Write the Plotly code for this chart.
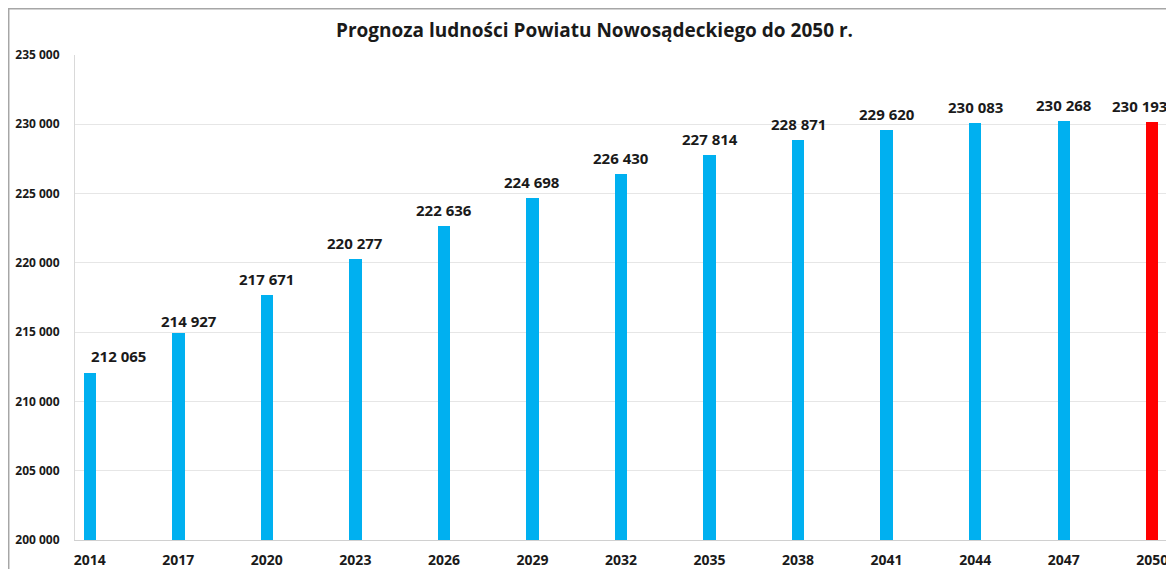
import plotly.graph_objects as go

years = [2014, 2017, 2020, 2023, 2026, 2029, 2032, 2035, 2038, 2041, 2044, 2047, 2050]
population = [212065, 214927, 217671, 220277, 222636, 224698, 226430,
              227814, 228871, 229620, 230083, 230268, 230193]
bar_colors = ['#00B0F0'] * 12 + ['#FF0000']
y_ticks = [200000, 205000, 210000, 215000, 220000, 225000, 230000, 235000]

fig = go.Figure()

fig.add_trace(
    go.Bar(
        x=years,
        y=population,
        width=0.42,
        marker=dict(color=bar_colors, line=dict(width=0)),
        hovertemplate='%{x}: %{y:,d}<extra></extra>',
        showlegend=False,
    )
)

# value labels (a few were nudged by hand in the original)
for i, (yr, val) in enumerate(zip(years, population)):
    xs, ys = 0, 4
    if i == 0:
        xs, ys = 29, 5
    elif i == 1:
        xs, ys = 11, 0
    elif i == len(years) - 1:
        xs = -13
    fig.add_annotation(
        x=yr, y=val, xref='x', yref='y',
        text=f'{val:,}'.replace(',', ' '),
        showarrow=False, xanchor='center', yanchor='bottom',
        xshift=xs, yshift=ys,
        font=dict(family='Open Sans', size=15, color='#1a1a1a', weight='bold'),
    )

fig.update_xaxes(
    range=[2013.5, 2050.5],
    tickvals=years,
    ticktext=[str(y) for y in years],
    tickfont=dict(family='Open Sans', size=14, color='#1a1a1a', weight='bold'),
    showgrid=False,
    showline=True, linecolor='#d0d0d0', linewidth=1,
    ticks='', zeroline=False,
    ticklabelstandoff=7,
    automargin=False,
)
fig.update_yaxes(
    range=[200000, 235000],
    tickvals=y_ticks,
    tickformat=',d',
    tickfont=dict(family='Open Sans', size=12, color='#1a1a1a', weight='bold'),
    showgrid=True, gridcolor='#e6e6e6', gridwidth=1,
    showline=True, linecolor='#d9d9d9', linewidth=1,
    ticks='', zeroline=False,
    ticklabelstandoff=12,
    automargin=False,
)

# outer chart border (only left/top visible in the crop)
fig.add_shape(
    type='rect', xref='paper', yref='paper',
    x0=-0.0607, x1=1.2, y0=-0.3, y1=1.0954,
    line=dict(color='#a6a6a6', width=1.5), fillcolor='rgba(0,0,0,0)',
    layer='below',
)

fig.update_layout(
    width=1166, height=561,
    margin=dict(l=67, r=7, t=47, b=29),
    separators=', ',
    title=dict(
        text='Prognoza ludności Powiatu Nowosądeckiego do 2050 r.',
        x=0.503, xanchor='center', y=0.961, yanchor='middle',
        font=dict(family='Open Sans', size=19, color='#1a1a1a', weight='bold'),
    ),
    plot_bgcolor='white',
    paper_bgcolor='white',
    bargap=0,
)

fig.write_html("out.html")
